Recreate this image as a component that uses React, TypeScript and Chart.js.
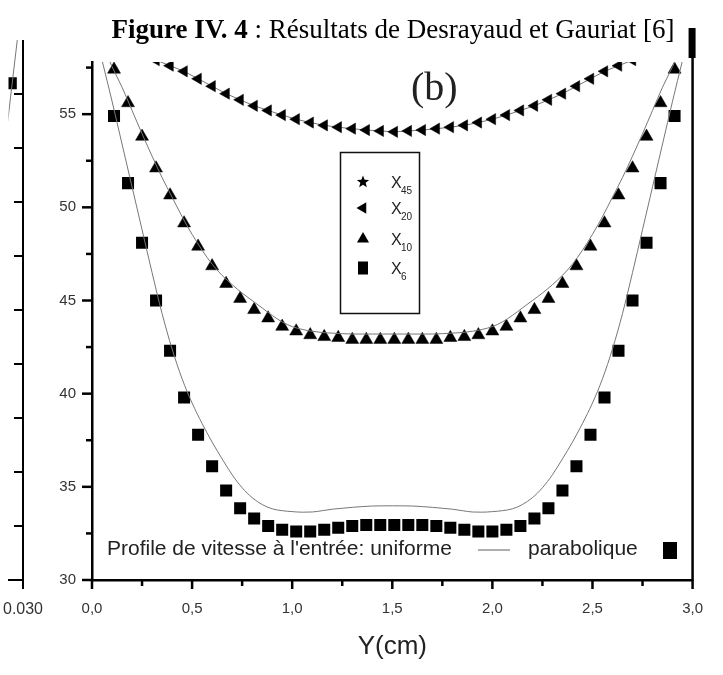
import React, { useEffect, useRef } from "react";
import { Chart, registerables } from "chart.js";

Chart.register(...registerables);

// ---------------- data ----------------
// Y positions (cm) of the markers (parabolic inlet profile)
const yPos = [0.11, 0.18, 0.25, 0.32, 0.39, 0.46, 0.53, 0.60, 0.67, 0.74, 0.81, 0.88, 0.95, 1.02, 1.09, 1.16, 1.23, 1.30, 1.37, 1.44, 1.51, 1.58, 1.65, 1.72, 1.79, 1.86, 1.93, 2.00, 2.07, 2.14, 2.21, 2.28, 2.35, 2.42, 2.49, 2.56, 2.63, 2.70, 2.77, 2.84, 2.91];

const x6Parabolic = [54.9, 51.3, 48.1, 45.0, 42.3, 39.8, 37.8, 36.1, 34.8, 33.85, 33.3, 32.9, 32.7, 32.6, 32.6, 32.7, 32.8, 32.9, 32.95, 32.95, 32.95, 32.95, 32.95, 32.9, 32.8, 32.7, 32.6, 32.6, 32.7, 32.9, 33.3, 33.85, 34.8, 36.1, 37.8, 39.8, 42.3, 45.0, 48.1, 51.3, 54.9];

const x10Parabolic = [57.4, 55.6, 53.8, 52.1, 50.65, 49.15, 47.9, 46.85, 45.9, 45.1, 44.5, 44.05, 43.6, 43.35, 43.15, 43.05, 43.0, 42.9, 42.9, 42.9, 42.9, 42.9, 42.9, 42.9, 43.0, 43.05, 43.15, 43.35, 43.6, 44.05, 44.5, 45.1, 45.9, 46.85, 47.9, 49.15, 50.65, 52.1, 53.8, 55.6, 57.4];

const x20Parabolic = [null, null, null, 57.9, 57.6, 57.3, 56.9, 56.5, 56.1, 55.77, 55.45, 55.2, 54.95, 54.73, 54.55, 54.4, 54.3, 54.22, 54.15, 54.1, 54.05, 54.1, 54.15, 54.22, 54.3, 54.4, 54.55, 54.73, 54.95, 55.2, 55.45, 55.77, 56.1, 56.5, 56.9, 57.3, 57.6, 57.9, null, null, null];

// Y positions (cm) of the uniform-inlet curves
const yUniform = [0.05, 0.10, 0.15, 0.20, 0.25, 0.30, 0.35, 0.40, 0.45, 0.50, 0.55, 0.60, 0.65, 0.70, 0.75, 0.80, 0.85, 0.90, 0.95, 1.00, 1.05, 1.10, 1.15, 1.20, 1.25, 1.30, 1.35, 1.40, 1.45, 1.50, 1.55, 1.60, 1.65, 1.70, 1.75, 1.80, 1.85, 1.90, 1.95, 2.00, 2.05, 2.10, 2.15, 2.20, 2.25, 2.30, 2.35, 2.40, 2.45, 2.50, 2.55, 2.60, 2.65, 2.70, 2.75, 2.80, 2.85, 2.90, 2.95];

const x6Uniform = [57.9, 55.7, 53.4, 51.1, 48.8, 46.5, 44.3, 42.4, 40.8, 39.5, 38.4, 37.4, 36.5, 35.65, 34.95, 34.42, 34.05, 33.82, 33.72, 33.67, 33.64, 33.65, 33.72, 33.8, 33.85, 33.9, 33.94, 33.97, 33.98, 33.98, 33.98, 33.97, 33.94, 33.9, 33.85, 33.8, 33.72, 33.65, 33.64, 33.67, 33.72, 33.82, 34.05, 34.42, 34.95, 35.65, 36.5, 37.4, 38.4, 39.5, 40.8, 42.4, 44.3, 46.5, 48.8, 51.1, 53.4, 55.7, 57.9];

const x10Uniform = [58.8, 57.55, 56.45, 55.2, 53.95, 52.75, 51.6, 50.55, 49.5, 48.55, 47.7, 46.95, 46.35, 45.85, 45.4, 45.0, 44.6, 44.2, 43.85, 43.6, 43.45, 43.35, 43.28, 43.25, 43.22, 43.2, 43.2, 43.2, 43.2, 43.2, 43.2, 43.2, 43.2, 43.2, 43.22, 43.25, 43.28, 43.35, 43.45, 43.6, 43.85, 44.2, 44.6, 45.0, 45.4, 45.85, 46.35, 46.95, 47.7, 48.55, 49.5, 50.55, 51.6, 52.75, 53.95, 55.2, 56.45, 57.55, 58.8];

const xTicks = [0, 0.5, 1.0, 1.5, 2.0, 2.5, 3.0];
const yTicks = [30, 35, 40, 45, 50, 55];
const legendSeries = ["45", "20", "10", "6"];

// left sliver: the neighbouring panel (a)
const aLineX = [0.0260, 0.0290];
const aLineV = [8.5, 10.3];
const aSquareX = [0.0268];
const aSquareV = [9.2];
const aXMin = 0.0262;
const aXMax = 0.030;
const aYTicks = [1, 2, 3, 4, 5, 6, 7, 8, 9];

export default function App() {
  const mainRef = useRef<HTMLCanvasElement>(null);
  const sideRef = useRef<HTMLCanvasElement>(null);

  useEffect(() => {
    document.body.style.margin = "0";
    const SANS = '"Liberation Sans", Arial, sans-serif';
    const SERIF = '"Liberation Serif", "Times New Roman", serif';

    const text = (
      ctx: CanvasRenderingContext2D,
      s: string,
      x: number,
      y: number,
      font: string,
      color: string,
      align: CanvasTextAlign = "left"
    ) => {
      ctx.save();
      ctx.font = font;
      ctx.fillStyle = color;
      ctx.textAlign = align;
      ctx.textBaseline = "alphabetic";
      ctx.fillText(s, x, y);
      ctx.restore();
    };

    const star = (ctx: CanvasRenderingContext2D, cx: number, cy: number, R: number, r: number) => {
      ctx.beginPath();
      for (let i = 0; i < 10; i++) {
        const rad = i % 2 === 0 ? R : r;
        const a = -Math.PI / 2 + (i * Math.PI) / 5;
        const px = cx + rad * Math.cos(a);
        const py = cy + rad * Math.sin(a);
        if (i === 0) ctx.moveTo(px, py);
        else ctx.lineTo(px, py);
      }
      ctx.closePath();
      ctx.fill();
    };

    const tri = (ctx: CanvasRenderingContext2D, cx: number, cy: number, r: number, rotDeg: number) => {
      const rot = (rotDeg * Math.PI) / 180;
      ctx.beginPath();
      for (let i = 0; i < 3; i++) {
        const a = rot + (i * 2 * Math.PI) / 3;
        const px = cx + Math.sin(a) * r;
        const py = cy - Math.cos(a) * r;
        if (i === 0) ctx.moveTo(px, py);
        else ctx.lineTo(px, py);
      }
      ctx.closePath();
      ctx.fill();
    };

    const decor = {
      id: "decor",
      afterDraw(chart: any) {
        const { ctx, chartArea: a, scales } = chart;
        const xs = scales.x;
        const ys = scales.y;
        ctx.save();
        ctx.strokeStyle = "#000";
        ctx.fillStyle = "#000";
        // x ticks (major + minor)
        ctx.lineWidth = 2.5;
        for (let i = 0; i < xTicks.length; i++) {
          const px = xs.getPixelForValue(xTicks[i]);
          ctx.beginPath();
          ctx.moveTo(px, a.bottom);
          ctx.lineTo(px, a.bottom + 9);
          ctx.stroke();
          if (i < xTicks.length - 1) {
            const pm = xs.getPixelForValue((xTicks[i] + xTicks[i + 1]) / 2);
            ctx.beginPath();
            ctx.moveTo(pm, a.bottom);
            ctx.lineTo(pm, a.bottom + 6);
            ctx.stroke();
          }
        }
        // y ticks (major + minor)
        for (let i = 0; i < yTicks.length; i++) {
          const py = ys.getPixelForValue(yTicks[i]);
          ctx.beginPath();
          ctx.moveTo(a.left, py);
          ctx.lineTo(a.left - 10, py);
          ctx.stroke();
          const pm = ys.getPixelForValue(yTicks[i] + 2.5);
          if (pm >= a.top) {
            ctx.beginPath();
            ctx.moveTo(a.left, pm);
            ctx.lineTo(a.left - 6, pm);
            ctx.stroke();
          }
        }
        // right frame with the heavy mark at the top
        ctx.lineWidth = 2.5;
        ctx.beginPath();
        ctx.moveTo(a.right, 40);
        ctx.lineTo(a.right, a.bottom + 1);
        ctx.stroke();
        ctx.fillRect(a.right - 4, 28, 7, 30);

        // title
        ctx.font = `bold 27px ${SERIF}`;
        const p1 = "Figure IV. 4";
        const w1 = ctx.measureText(p1).width;
        ctx.font = `27px ${SERIF}`;
        const p2 = " : Résultats de Desrayaud et Gauriat [6]";
        const w2 = ctx.measureText(p2).width;
        const tx = 393 - (w1 + w2) / 2;
        text(ctx, p1, tx, 38, `bold 27px ${SERIF}`, "#000");
        text(ctx, p2, tx + w1, 38, `27px ${SERIF}`, "#000");

        // panel label
        text(ctx, "(b)", 411, 100, `40px ${SERIF}`, "#222");

        // symbol legend box
        ctx.lineWidth = 1.5;
        ctx.strokeStyle = "#111";
        ctx.strokeRect(340.5, 152.5, 79, 161);
        const rows = [182, 208, 239, 268];
        const mx = 363;
        ctx.fillStyle = "#000";
        star(ctx, mx, rows[0], 6.5, 2.8);
        tri(ctx, mx, rows[1], 6.5, -90);
        tri(ctx, mx, rows[2], 7, 0);
        ctx.fillRect(mx - 5, rows[3] - 6.5, 10, 13);
        for (let i = 0; i < rows.length; i++) {
          text(ctx, "X", 391, rows[i] + 6, `16px ${SANS}`, "#222");
          text(ctx, legendSeries[i], 401, rows[i] + 12, `10px ${SANS}`, "#222");
        }

        // bottom legend line
        text(ctx, "Profile de vitesse à l'entrée: uniforme", 107, 555, `21px ${SANS}`, "#222");
        ctx.strokeStyle = "#777";
        ctx.lineWidth = 1.2;
        ctx.beginPath();
        ctx.moveTo(478, 550);
        ctx.lineTo(510, 550);
        ctx.stroke();
        text(ctx, "parabolique", 528, 555, `21px ${SANS}`, "#222");
        ctx.fillStyle = "#000";
        ctx.fillRect(663, 542, 14, 17);
        ctx.restore();
      },
    };

    const lineStyle = {
      showLine: true,
      borderColor: "#777",
      borderWidth: 1,
      pointRadius: 0,
      cubicInterpolationMode: "monotone" as const,
    };

    const main = new Chart(mainRef.current!, {
      type: "scatter",
      data: {
        datasets: [
          {
            label: "X6 uniforme",
            data: yUniform.map((x, i) => ({ x, y: x6Uniform[i] })),
            ...lineStyle,
          },
          {
            label: "X10 uniforme",
            data: yUniform.map((x, i) => ({ x, y: x10Uniform[i] })),
            ...lineStyle,
          },
          {
            label: "X20",
            data: yPos.map((x, i) => ({ x, y: x20Parabolic[i] as any })),
            showLine: true,
            borderColor: "#777",
            borderWidth: 1,
            pointStyle: "triangle",
            rotation: -90,
            pointRadius: 6.5,
            pointBackgroundColor: "#000",
            pointBorderColor: "#000",
            pointBorderWidth: 0.5,
          },
          {
            label: "X10",
            data: yPos.map((x, i) => ({ x, y: x10Parabolic[i] })),
            showLine: false,
            pointStyle: "triangle",
            pointRadius: 7.5,
            pointBackgroundColor: "#000",
            pointBorderColor: "#000",
            pointBorderWidth: 0.5,
          },
          {
            label: "X6",
            data: yPos.map((x, i) => ({ x, y: x6Parabolic[i] })),
            showLine: false,
            pointStyle: "rect",
            pointRadius: 8.5,
            pointBackgroundColor: "#000",
            pointBorderColor: "#000",
            pointBorderWidth: 0,
          },
        ],
      },
      options: {
        animation: false,
        responsive: false,
        events: [],
        layout: { padding: { left: 0, right: 30, top: 62, bottom: 0 } },
        plugins: { legend: { display: false }, tooltip: { enabled: false } },
        scales: {
          x: {
            type: "linear",
            min: 0,
            max: 3,
            grid: { display: false, drawTicks: false },
            border: { display: true, color: "#000", width: 2.5 },
            afterBuildTicks: (s: any) => {
              s.ticks = xTicks.map((v) => ({ value: v }));
            },
            afterFit: (s: any) => {
              s.height = 95;
            },
            ticks: {
              padding: 20,
              color: "#333",
              font: { family: SANS, size: 15 },
              maxRotation: 0,
              autoSkip: false,
              callback: (v: any) => Number(v).toFixed(1).replace(".", ","),
            },
            title: {
              display: true,
              text: "Y(cm)",
              color: "#222",
              font: { family: SANS, size: 26 },
              padding: { top: 0, bottom: 13 },
            },
          },
          y: {
            type: "linear",
            min: 30,
            max: 57.8,
            grid: { display: false, drawTicks: false },
            border: { display: true, color: "#000", width: 2.5 },
            afterBuildTicks: (s: any) => {
              s.ticks = yTicks.map((v) => ({ value: v }));
            },
            afterFit: (s: any) => {
              s.width = 92;
            },
            ticks: {
              padding: 16,
              color: "#333",
              font: { family: SANS, size: 15 },
              callback: (v: any) => String(v),
            },
          },
        },
      },
      plugins: [decor],
    });

    const sideDecor = {
      id: "sideDecor",
      afterDraw(chart: any) {
        const { ctx, chartArea: a, scales } = chart;
        const ys = scales.y;
        ctx.save();
        ctx.strokeStyle = "#000";
        ctx.lineWidth = 2;
        ctx.beginPath();
        ctx.moveTo(a.right, 40);
        ctx.lineTo(a.right, a.bottom + 9);
        ctx.stroke();
        for (const t of aYTicks) {
          const py = ys.getPixelForValue(t);
          ctx.beginPath();
          ctx.moveTo(a.right, py);
          ctx.lineTo(a.right - 9, py);
          ctx.stroke();
        }
        ctx.restore();
      },
    };

    const side = new Chart(sideRef.current!, {
      type: "scatter",
      data: {
        datasets: [
          {
            label: "a-line",
            data: aLineX.map((x, i) => ({ x, y: aLineV[i] })),
            showLine: true,
            borderColor: "#777",
            borderWidth: 1,
            pointRadius: 0,
          },
          {
            label: "a-square",
            data: aSquareX.map((x, i) => ({ x, y: aSquareV[i] })),
            pointStyle: "rect",
            pointRadius: 8.5,
            pointBackgroundColor: "#000",
            pointBorderWidth: 0,
          },
        ],
      },
      options: {
        animation: false,
        responsive: false,
        events: [],
        layout: { padding: { left: 0, right: 37, top: 40, bottom: 0 } },
        plugins: { legend: { display: false }, tooltip: { enabled: false } },
        scales: {
          x: {
            type: "linear",
            min: aXMin,
            max: aXMax,
            grid: { display: false, drawTicks: false },
            border: { display: true, color: "#000", width: 2 },
            afterBuildTicks: (s: any) => {
              s.ticks = [{ value: aXMin }, { value: aXMax }];
            },
            afterFit: (s: any) => {
              s.height = 95;
              s.paddingLeft = 0;
              s.paddingRight = 0;
            },
            ticks: {
              padding: 20,
              color: "#333",
              font: { family: SANS, size: 16 },
              maxRotation: 0,
              autoSkip: false,
              callback: (v: any) => (Math.abs(Number(v) - aXMax) < 1e-9 ? Number(v).toFixed(3) : ""),
            },
          },
          y: { type: "linear", min: 0, max: 10, display: false },
        },
      },
      plugins: [sideDecor],
    });

    return () => {
      main.destroy();
      side.destroy();
    };
  }, []);

  return (
    <div style={{ position: "relative", width: 723, height: 675, background: "#fff", overflow: "hidden" }}>
      <canvas ref={sideRef} width={60} height={675} style={{ position: "absolute", left: 0, top: 0, width: 60, height: 675 }} />
      <canvas ref={mainRef} width={723} height={675} style={{ position: "absolute", left: 0, top: 0, width: 723, height: 675 }} />
    </div>
  );
}
